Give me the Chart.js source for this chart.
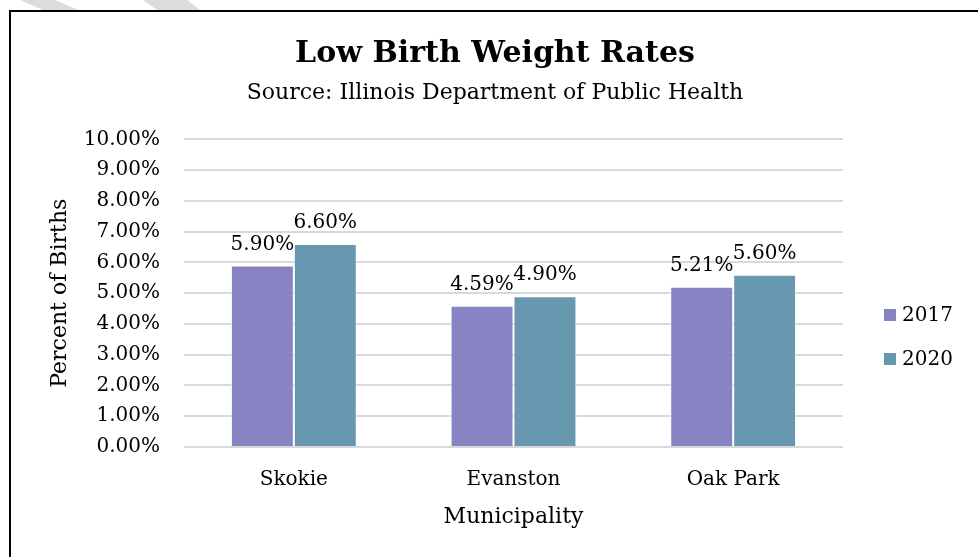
<!DOCTYPE html>
<html>
<head>
<meta charset="utf-8">
<script src="https://cdn.jsdelivr.net/npm/chart.js@4.4.0/dist/chart.umd.min.js"></script>
<style>
  html, body { margin: 0; padding: 0; background: #fff; overflow: hidden; }
  #wrap { position: relative; width: 978px; height: 557px; }
  .stripe { position: absolute; top: 0; left: 0; width: 978px; height: 12px; background: #dcdcdc; }
  #s1 { clip-path: polygon(20px 0, 55px 0, 78px 10px, 43px 10px); }
  #s2 { clip-path: polygon(143px 0, 187px 0, 200px 10px, 157px 10px); }
  #box { position: absolute; left: 9px; top: 10px; width: 1000px; height: 600px;
         border-left: 2px solid #000; border-top: 2px solid #000; }
  #chart { position: absolute; left: 0; top: 0; }
</style>
</head>
<body>
<div id="wrap">
  <div class="stripe" id="s1"></div>
  <div class="stripe" id="s2"></div>
  <div id="box"></div>
  <canvas id="chart" width="978" height="557"></canvas>
</div>
<script>
// Datos del gráfico
var municipios = ['Skokie', 'Evanston', 'Oak Park'];
var anios = ['2017', '2020'];
var valores2017 = [5.90, 4.59, 5.21];
var valores2020 = [6.60, 4.90, 5.60];
var colores = ['#8884c4', '#6897b0'];

var fuente = "'DejaVu Serif', serif";

// Etiquetas de valor encima de cada barra
var etiquetasPlugin = {
    id: 'etiquetas',
    afterDatasetsDraw: function (chart) {
        var ctx = chart.ctx;
        ctx.save();
        ctx.font = '20px ' + fuente;
        ctx.fillStyle = '#000';
        ctx.textAlign = 'center';
        ctx.textBaseline = 'bottom';
        chart.data.datasets.forEach(function (ds, i) {
            chart.getDatasetMeta(i).data.forEach(function (bar, j) {
                ctx.fillText(ds.data[j].toFixed(2) + '%', bar.x, bar.y - 11);
            });
        });
        ctx.restore();
    }
};

// Leyenda a la derecha del área de trazado
var leyendaPlugin = {
    id: 'leyenda',
    afterDraw: function (chart) {
        var ctx = chart.ctx;
        var x = chart.chartArea.right + 41;
        ctx.save();
        ctx.font = '20px ' + fuente;
        ctx.textBaseline = 'middle';
        chart.data.datasets.forEach(function (ds, i) {
            var y = 315 + i * 44;
            ctx.fillStyle = ds.backgroundColor;
            ctx.fillRect(x, y - 6, 12, 12);
            ctx.fillStyle = '#000';
            ctx.fillText(ds.label, x + 18, y + 1);
        });
        ctx.restore();
    }
};

var config = {
    type: 'bar',
    data: {
        labels: municipios,
        datasets: [
            { label: anios[0], data: valores2017, backgroundColor: colores[0], borderColor: 'rgba(255,255,255,0.7)', borderWidth: 1 },
            { label: anios[1], data: valores2020, backgroundColor: colores[1], borderColor: 'rgba(255,255,255,0.7)', borderWidth: 1 }
        ]
    },
    options: {
        responsive: false,
        animation: false,
        layout: { padding: { left: 12, right: 0, top: 0, bottom: 20 } },
        datasets: { bar: { barPercentage: 1, categoryPercentage: 0.573 } },
        plugins: {
            legend: { display: false },
            tooltip: { enabled: false },
            title: {
                display: true,
                text: 'Low Birth Weight Rates',
                color: '#000',
                font: { family: fuente, size: 30, weight: 'bold', lineHeight: 1.2 },
                padding: { top: 36, bottom: 2 }
            },
            subtitle: {
                display: true,
                text: 'Source: Illinois Department of Public Health',
                color: '#000',
                font: { family: fuente, size: 22, lineHeight: 1.2 },
                padding: { top: 6, bottom: 33 }
            }
        },
        scales: {
            x: {
                grid: { display: false },
                border: { display: false },
                ticks: { color: '#000', font: { family: fuente, size: 20 }, padding: 13 },
                title: {
                    display: true, text: 'Municipality', color: '#000',
                    font: { family: fuente, size: 22 }, padding: { top: 4, bottom: 7 }
                },
                afterFit: function (scale) { scale.height = 90; }
            },
            y: {
                min: 0,
                max: 10,
                ticks: {
                    stepSize: 1,
                    color: '#000',
                    font: { family: fuente, size: 20 },
                    padding: 24,
                    callback: function (v) { return v.toFixed(2) + '%'; }
                },
                grid: { color: '#d9d9d9', lineWidth: 2, drawTicks: false },
                border: { display: false },
                title: {
                    display: true, text: 'Percent of Births', color: '#000',
                    font: { family: fuente, size: 22 }, padding: { top: 35, bottom: 0 }
                },
                afterFit: function (scale) { scale.width = 172; }
            },
            // eje vacío a la derecha: deja sitio para la leyenda
            derecha: {
                type: 'linear',
                position: 'right',
                grid: { display: false },
                border: { display: false },
                ticks: { display: false },
                afterFit: function (scale) { scale.width = 135; }
            }
        }
    },
    plugins: [etiquetasPlugin, leyendaPlugin]
};

var ctx = document.getElementById('chart').getContext('2d');
new Chart(ctx, config);
</script>
</body>
</html>
